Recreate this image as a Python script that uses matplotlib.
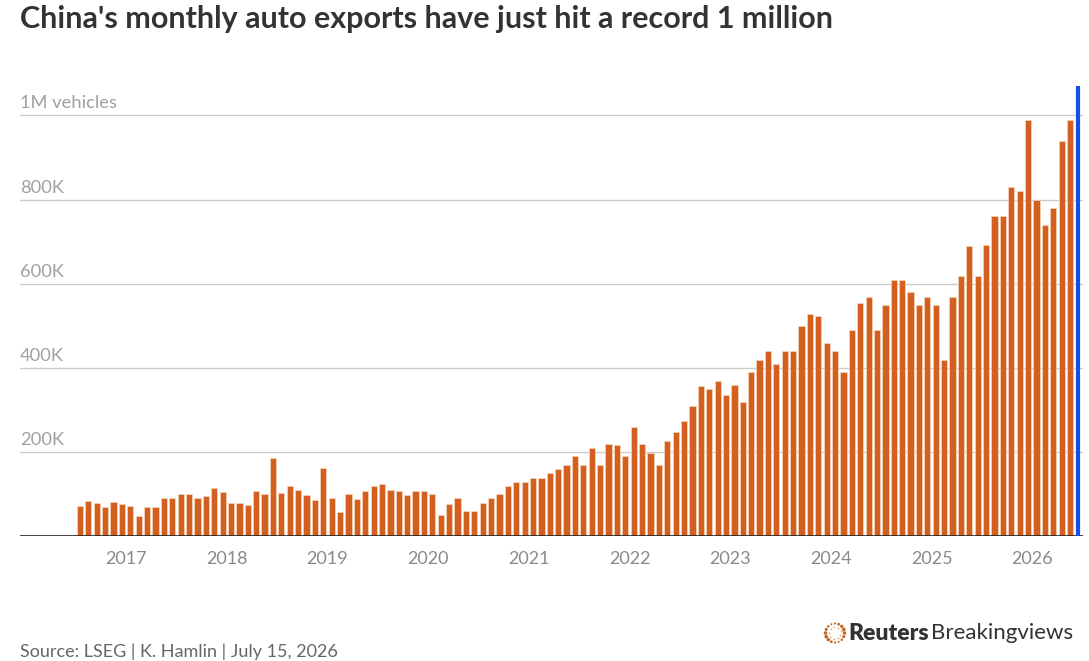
import numpy as np
import matplotlib
matplotlib.use("Agg")
import matplotlib.pyplot as plt

# ---------------- data ----------------
# Monthly China auto exports (thousand vehicles), Jul 2016 .. May 2026
first_year, first_month = 2016, 7
exports_k = [
    72, 83, 78, 69, 81, 77, 72, 48, 69, 69, 90, 91, 100, 100, 90, 95, 114, 105,
    78, 78, 73, 107, 101, 186, 103, 120, 109, 98, 85, 161, 90, 57,
    100, 88, 106, 118, 124, 110, 107, 98, 108, 108, 99, 49, 76, 90, 60, 60,
    79, 90, 99, 119, 129, 129, 139, 139, 149, 160, 169, 190, 169, 209, 169,
    218, 216, 190, 259, 218, 198, 170, 226, 247, 274, 308, 356, 350, 369, 336,
    358, 319, 389, 418, 439, 409, 439, 439, 499, 528, 523, 459, 439,
    389, 489, 555, 568, 489, 549, 609, 609, 580, 549, 569, 549, 419, 569, 619,
    689, 619, 693, 760, 760, 829, 820, 989, 799, 740, 780, 940, 989,
]
year_labels = ["2017", "2018", "2019", "2020", "2021", "2022", "2023", "2024", "2025", "2026"]
y_ticks = [200, 400, 600, 800, 1000]
y_tick_labels = ["200K", "400K", "600K", "800K", "1M vehicles"]

title = "China's monthly auto exports have just hit a record 1 million"
source = "Source: LSEG | K. Hamlin | July 15, 2026"

# ---------------- style ----------------
BAR = "#d4601f"
BAR_EDGE = "#f6d7bd"
GRID = "#cccccc"
LABEL = "#8a8a8a"
BLUE = "#1550e6"
FONT = "Lato"

W, H = 1089, 661
fig = plt.figure(figsize=(W / 100, H / 100), dpi=100)
fig.patch.set_facecolor("white")

def fx(px):
    return px / W

def fy(py):
    return 1 - py / H

ax_left, ax_right, ax_top, ax_bottom = 20, 1083, 86, 536
ax = fig.add_axes([fx(ax_left), fy(ax_bottom), fx(ax_right - ax_left), (ax_bottom - ax_top) / H])

n = len(exports_k)
x = np.arange(n)
ax.bar(x, exports_k, width=0.74, color=BAR, edgecolor=BAR_EDGE, linewidth=0.5, zorder=3)

ax.set_xlim(-7.15, 119.55)
ax.set_ylim(0, 1070)

# grid lines and labels
for v, lab in zip(y_ticks, y_tick_labels):
    ax.axhline(v, color=GRID, linewidth=1.0, zorder=1)
    ax.annotate(lab, xy=(0, v), xycoords=("axes fraction", "data"),
                xytext=(0, 5), textcoords="offset points", ha="left", va="baseline",
                fontsize=13.2, color="#a0a0a0", family=FONT)

ax.axhline(0, color="#222222", linewidth=1.2, zorder=4)

# blue marker at the end of the series
ax.axvline(n, color=BLUE, linewidth=3.0, zorder=5)

# x ticks at January boundaries
months_to_jan = (13 - first_month) % 12
tick_pos = [months_to_jan + 12 * i - 0.5 for i in range(len(year_labels))]
ax.set_xticks(tick_pos)
ax.set_xticklabels(year_labels, fontsize=13, color=LABEL, family=FONT)
ax.tick_params(axis="x", length=0, pad=11)
ax.set_yticks([])
for s in ax.spines.values():
    s.set_visible(False)
ax.set_facecolor("none")

# title
fig.text(fx(20), fy(19), title, fontsize=22, fontweight="bold", color="#333333",
         family=FONT, ha="left", va="center")

# source
fig.text(fx(20), fy(652), source, fontsize=13, color="#666666", family=FONT,
         ha="left", va="center")

# logo: dotted ring
cx, cy, r = 835, 633, 9.5
ring_ax = fig.add_axes([fx(cx - 14), fy(cy + 14), fx(28), 28 / H])
ring_ax.set_xlim(-14, 14)
ring_ax.set_ylim(-14, 14)
ring_ax.axis("off")
ang = np.linspace(0, 2 * np.pi, 16, endpoint=False)
sizes = 2 + 5 * (0.5 + 0.5 * np.sin(ang * 2 + 1))
ring_ax.scatter(r * np.cos(ang), r * np.sin(ang), s=sizes, color="#c8641e", linewidths=0)
ang2 = np.linspace(0, 2 * np.pi, 9, endpoint=False) + 0.3
ring_ax.scatter(0.62 * r * np.cos(ang2), 0.62 * r * np.sin(ang2),
                s=1.5, color="#e0a070", linewidths=0)

t1 = fig.text(fx(848), fy(633), "Reuters", fontsize=16.5, fontweight="heavy",
              color="#333333", family=FONT, ha="left", va="center")
fig.canvas.draw()
bb = t1.get_window_extent(renderer=fig.canvas.get_renderer())
fig.text((bb.x1 + 2) / W, fy(633), "Breakingviews", fontsize=16, color="#333333",
         family=FONT, ha="left", va="center")

fig.savefig("out.png", dpi=100, facecolor="white")
